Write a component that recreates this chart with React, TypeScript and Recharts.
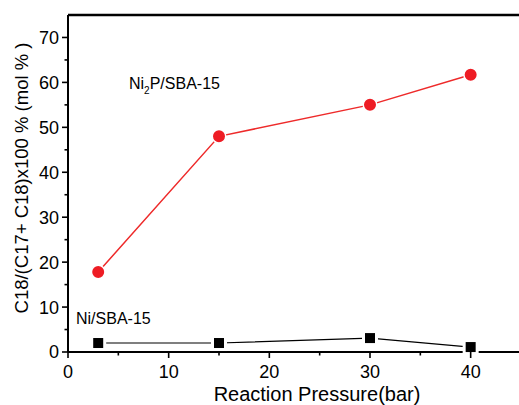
import React from "react";
import { LineChart, Line, XAxis, YAxis, ReferenceLine } from "recharts";

const pressures = [3, 15, 30, 40];
const ni2pValues = [17.8, 48.0, 55.0, 61.7];
const niValues = [2.0, 2.0, 3.1, 1.1];
const xTicks = [0, 5, 10, 15, 20, 25, 30, 35, 40, 45];
const yTicks = [0, 5, 10, 15, 20, 25, 30, 35, 40, 45, 50, 55, 60, 65, 70, 75];
const xTitle = "Reaction Pressure(bar)";
const yTitle = "C18/(C17+ C18)x100 %  (mol % )";

const data = pressures.map((p, i) => ({ p, ni2p: ni2pValues[i], ni: niValues[i] }));

const FONT = "'Liberation Sans', Arial, sans-serif";

const YTick = (props: any) => {
  const { x, y, payload } = props;
  const v = payload.value;
  if (v === 75) return <g />;
  const major = v % 10 === 0;
  return (
    <g>
      <line x1={x} y1={y} x2={x - (major ? 6 : 3.5)} y2={y} stroke="#000" strokeWidth={1.6} />
      {major && (
        <text x={x - 9} y={y} dy="0.36em" textAnchor="end" fontSize={18} fontFamily={FONT} fill="#000">
          {v}
        </text>
      )}
    </g>
  );
};

const XTick = (props: any) => {
  const { x, y, payload } = props;
  const v = payload.value;
  if (v === 45) return <g />;
  const major = v % 10 === 0;
  return (
    <g>
      <line x1={x} y1={y} x2={x} y2={y + (major ? 6 : 3.5)} stroke="#000" strokeWidth={1.6} />
      {major && (
        <text x={x} y={y + 26} textAnchor="middle" fontSize={18} fontFamily={FONT} fill="#000">
          {v}
        </text>
      )}
    </g>
  );
};

const SquareDot = (props: any) => {
  const { cx, cy, index } = props;
  const s = 13;
  return (
    <rect
      key={`sq-${index}`}
      x={cx - s / 2}
      y={cy - s / 2}
      width={s}
      height={s}
      fill="#000"
      stroke="#fff"
      strokeWidth={3}
    />
  );
};

export default function App() {
  return (
    <div style={{ position: "absolute", left: 0, top: 0, width: 519, height: 405, overflow: "hidden", background: "#fff" }}>
      <LineChart
        width={525}
        height={405}
        data={data}
        margin={{ top: 15, right: 4, bottom: 0, left: 0 }}
      >
        <XAxis
          dataKey="p"
          type="number"
          domain={[0, 45]}
          ticks={xTicks}
          interval={0}
          tickSize={0}
          tickMargin={0}
          tick={<XTick />}
          height={53}
          axisLine={{ stroke: "#000", strokeWidth: 2 }}
        />
        <YAxis
          type="number"
          domain={[0, 75]}
          ticks={yTicks}
          interval={0}
          tickSize={0}
          tickMargin={0}
          tick={<YTick />}
          width={68}
          axisLine={{ stroke: "#000", strokeWidth: 2 }}
        />
        <ReferenceLine y={75} stroke="#000" strokeWidth={2.5} />
        <Line
          dataKey="ni2p"
          stroke="#ee2a2a"
          strokeWidth={1.5}
          isAnimationActive={false}
          dot={{ r: 6.75, fill: "#ee1c24", stroke: "#fff", strokeWidth: 1.5 }}
          activeDot={false}
        />
        <Line
          dataKey="ni"
          stroke="#000"
          strokeWidth={1.2}
          isAnimationActive={false}
          dot={<SquareDot />}
          activeDot={false}
        />
        <text x={129} y={89} fontSize={16} fontFamily={FONT} fill="#000">
          Ni<tspan fontSize={10} dy={5}>2</tspan>
          <tspan dy={-5}>P/SBA-15</tspan>
        </text>
        <text x={76} y={324} fontSize={16} fontFamily={FONT} fill="#000">
          Ni/SBA-15
        </text>
        <text x={317} y={401} textAnchor="middle" fontSize={20} fontFamily={FONT} fill="#000">
          {xTitle}
        </text>
        <text
          x={0}
          y={0}
          transform="translate(28 178) rotate(-90)"
          textAnchor="middle"
          fontSize={18.5}
          fontFamily={FONT}
          fill="#000"
        >
          {yTitle}
        </text>
      </LineChart>
    </div>
  );
}
